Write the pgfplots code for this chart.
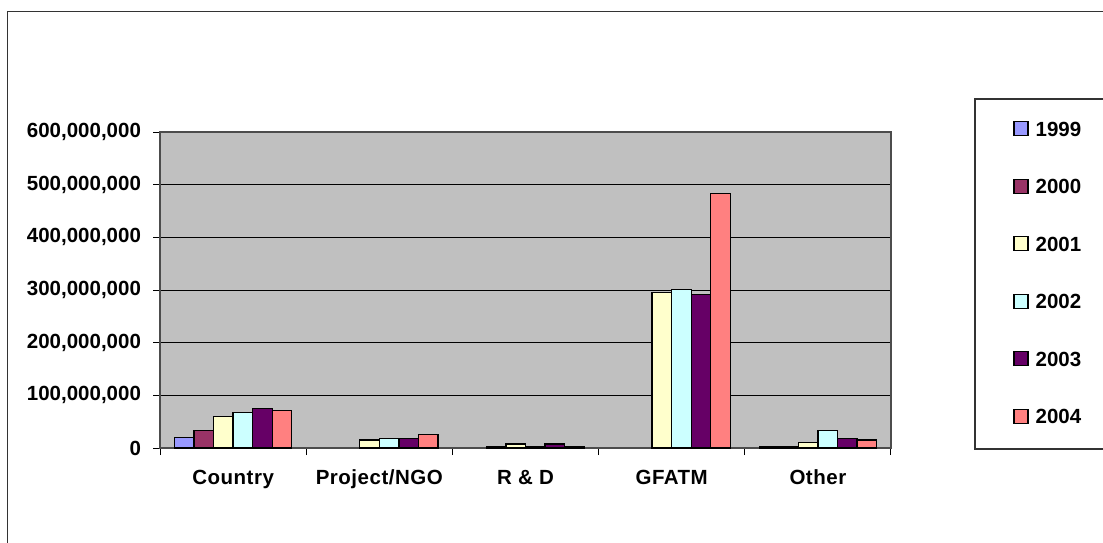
\documentclass[border=0pt]{standalone}
\usepackage{pgfplots}
\pgfplotsset{compat=1.18}
\usepackage{fontspec}
\setmainfont{Liberation Sans}
\newfontfamily\xlf[LetterSpace=2.5]{Liberation Sans}
\definecolor{cA}{HTML}{9999FF}
\definecolor{cB}{HTML}{993366}
\definecolor{cC}{HTML}{FFFFCC}
\definecolor{cD}{HTML}{CCFFFF}
\definecolor{cE}{HTML}{660066}
\definecolor{cF}{HTML}{FF8080}
\definecolor{plotbg}{HTML}{C0C0C0}
\newcommand{\cf}{\fontsize{10.25}{12}\selectfont\bfseries}
\newcommand{\xf}{\xlf\fontsize{10.25}{12}\selectfont\bfseries}
\begin{document}
\begin{tikzpicture}[x=1pt,y=1pt]
\path[use as bounding box] (0,0) rectangle (551.5,271);
\draw[line width=0.8pt, black!80] (3.65,-5) -- (3.65,265.15) -- (560,265.15);
\draw[line width=0.6pt, black!80] (560,221.5) -- (487.5,221.5) -- (487.5,46.5) -- (560,46.5);
\begin{axis}[
  at={(80pt,47pt)}, anchor=south west,
  scale only axis, width=365.5pt, height=158pt,
  xmin=-0.5, xmax=4.5, ymin=0, ymax=600000000,
  ybar=0pt, bar width=9.78pt,
  axis background/.style={fill=plotbg},
  ymajorgrids, grid style={black, line width=0.5pt},
  xtick={-0.5,0.5,...,4.5}, x tick label as interval,
  xticklabels={Country,Project/NGO,R \& D,GFATM,Other},
  ytick={0,100000000,200000000,300000000,400000000,500000000,600000000},
  scaled y ticks=false,
  tick pos=left,
  yticklabel style={font=\cf, xshift=-2.5pt, /pgf/number format/.cd, fixed, precision=0, 1000 sep={,}, assume math mode=true},
  xticklabel style={font=\xf, yshift=-4pt},
  tick align=outside, major tick length=3.5pt,
  tick style={black, line width=0.5pt},
  axis line style={black!70, line width=0.6pt},
  every axis plot/.append style={draw=black, line width=0.65pt},
  legend cell align=left,
  legend image code/.code={\draw[#1, line width=0.65pt] (0pt,-3.5pt) rectangle (7pt,3.5pt);},
  legend style={draw=none, fill=none, at={(1.1669,1.036)}, anchor=north west,
    inner sep=0pt, row sep=21.1pt, column sep=3.5pt, font=\cf,
    nodes={inner sep=0pt, text height=7.4pt, text depth=0pt}},
]
\addplot[fill=cA] coordinates {(0,19500000) (4,3000000)};
\addplot[fill=cB] coordinates {(0,33600000) (2,2500000) (4,3000000)};
\addplot[fill=cC] coordinates {(0,59400000) (1,15000000) (2,7500000) (3,295000000) (4,10500000)};
\addplot[fill=cD] coordinates {(0,67000000) (1,18400000) (2,2500000) (3,300500000) (4,33000000)};
\addplot[fill=cE] coordinates {(0,74600000) (1,18400000) (2,7500000) (3,291500000) (4,18500000)};
\addplot[fill=cF] coordinates {(0,70800000) (1,26000000) (2,2500000) (3,483000000) (4,15000000)};
\legend{1999,2000,2001,2002,2003,2004}
\end{axis}
\end{tikzpicture}
\end{document}
